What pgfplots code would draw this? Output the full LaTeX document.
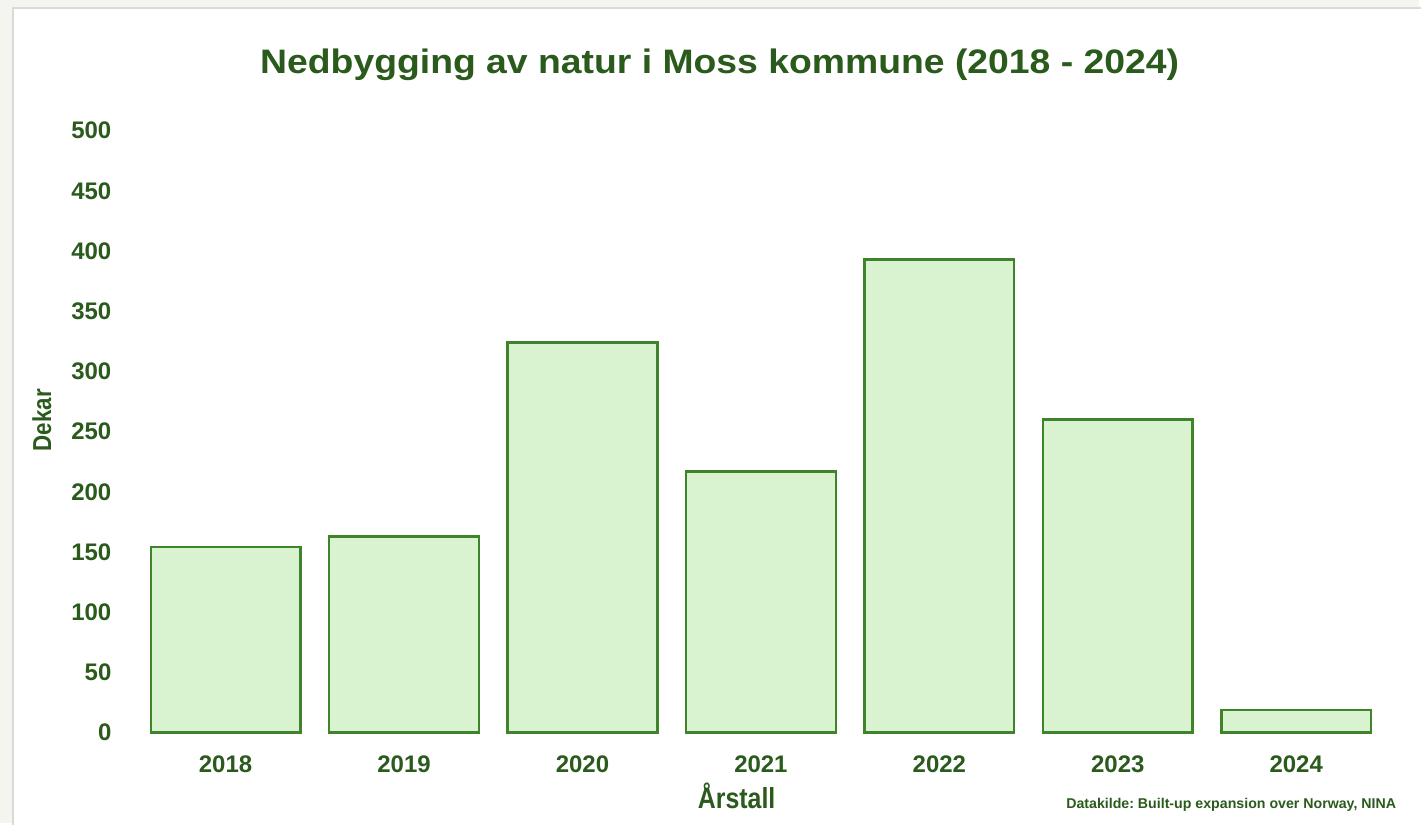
\documentclass[border=0pt]{standalone}
\usepackage{pgfplots}
\pgfplotsset{compat=1.18}
\usepackage{fontspec}
\setmainfont{Liberation Sans}
\newfontfamily\narrowfont[FakeStretch=0.86]{Liberation Sans}
\newfontfamily\widefont[FakeStretch=1.1]{Liberation Sans}
\definecolor{txtgreen}{HTML}{2A5A1C}
\definecolor{barline}{HTML}{3F842A}
\definecolor{barfill}{HTML}{D9F2D0}
\definecolor{outerbg}{HTML}{F5F5F0}
\definecolor{frameline}{HTML}{DADADA}
\frenchspacing
\begin{document}
\begin{tikzpicture}
\fill[outerbg] (0,0) rectangle (711pt,412.5pt);
\fill[white] (6.5pt,-1pt) rectangle (712pt,408.5pt);
\draw[frameline, line width=0.6pt] (6.5pt,-1pt) -- (6.5pt,408.5pt) -- (712pt,408.5pt);
\begin{axis}[
  at={(68.3pt,45.5pt)}, anchor=south west,
  width=625.7pt, height=301.5pt, scale only axis,
  xmin=-0.5, xmax=6.5, ymin=0, ymax=500,
  ybar, bar width=75pt,
  axis line style={draw=none},
  major tick length=0pt,
  xtick=data,
  xticklabels={2018,2019,2020,2021,2022,2023,2024},
  ytick={0,50,...,500},
  /pgf/number format/assume math mode=true,
  tick label style={font=\fontsize{12}{14}\selectfont\bfseries, text=txtgreen},
  yticklabel style={xshift=-9pt},
  xticklabel style={yshift=-8pt},
  clip=false,
]
\addplot[draw=barline, line width=1.2pt, fill=barfill] coordinates {
(0,154) (1,163) (2,324) (3,217) (4,393) (5,260) (6,19)
};
\end{axis}
\node[text=txtgreen, font=\widefont\fontsize{17}{20}\selectfont\bfseries] at (360.5pt,380pt) {Nedbygging av natur i Moss kommune (2018 - 2024)};
\node[text=txtgreen, font=\narrowfont\fontsize{13}{15}\selectfont\bfseries, rotate=90] at (21pt,202pt) {Dekar};
\node[text=txtgreen, font=\narrowfont\fontsize{14.5}{17}\selectfont\bfseries] at (369pt,14pt) {Årstall};
\node[text=txtgreen, font=\fontsize{7.1}{9}\selectfont\bfseries, anchor=east, inner sep=0pt] at (699.5pt,9.5pt) {Datakilde: Built-up expansion over Norway, NINA};
\path (0,0) rectangle (711pt,412.5pt);
\end{tikzpicture}
\end{document}
